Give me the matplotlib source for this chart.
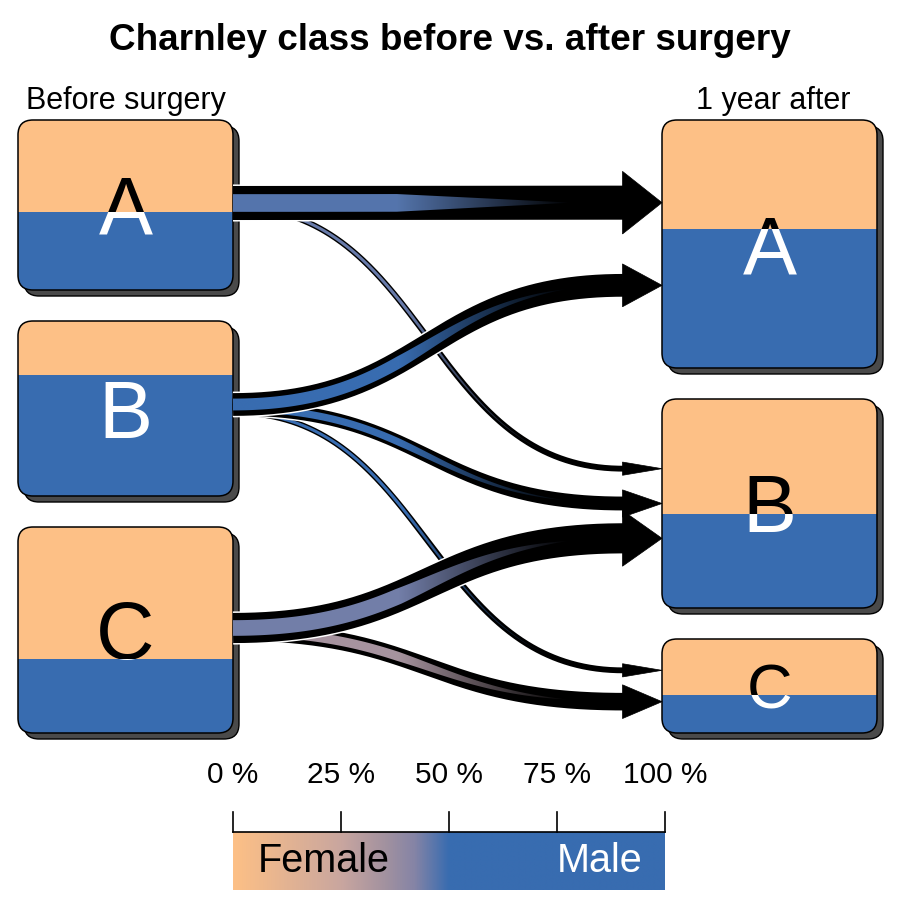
import numpy as np
import matplotlib
matplotlib.use("Agg")
import matplotlib.pyplot as plt
from matplotlib.patches import FancyBboxPatch, Rectangle, Polygon
from matplotlib.colors import LinearSegmentedColormap, to_rgb
from matplotlib.transforms import Bbox

plt.rcParams["font.family"] = ["Liberation Sans", "DejaVu Sans"]

# ---- data ---------------------------------------------------------------
classes = ["A", "B", "C"]
title = "Charnley class before vs. after surgery"
label_before = "Before surgery"
label_after = "1 year after"

# patients moving from class (row, before) to class (col, after)
transitions = np.array([[150, 20, 0],
                        [98, 57, 20],
                        [0, 132, 74]])
# share of women within each transition
trans_female = np.array([[0.53, 0.55, 0.0],
                         [0.30, 0.35, 0.40],
                         [0.0, 0.56, 0.66]])
# share of women in each box
box_female_before = [0.54, 0.31, 0.64]
box_female_after = [0.44, 0.55, 0.60]

legend_ticks = [0, 25, 50, 75, 100]
legend_labels = ["Female", "Male"]

# ---- style ---------------------------------------------------------------
col_female = "#fdc086"
col_male = "#386cb0"
# colour scale (position = share of men)
sex_cmap = LinearSegmentedColormap.from_list(
    "sex", [(0.0, col_female), (0.25, "#c9a69f"), (0.35, "#a3929f"),
            (0.42, "#8584a6"), (0.5, col_male), (1.0, col_male)])

PT = 0.72  # points per pixel at dpi 100
left_x, right_x, box_w = 18, 662, 215
col_top, col_bottom, gap = 120, 733, 31
radius = 15
shadow = 6
head_len = 39
width_min, width_per_count = 1.5, 0.217
fade_start, fade_len = 0.42, 0.45

fig = plt.figure(figsize=(9, 9), dpi=100)
ax = fig.add_axes([0, 0, 1, 1])
ax.set_xlim(0, 900)
ax.set_ylim(900, 0)
ax.axis("off")


def disp_bbox(x0, y0, x1, y1):
    p = ax.transData.transform([[x0, y0], [x1, y1]])
    return Bbox.from_extents(p[:, 0].min(), p[:, 1].min(), p[:, 0].max(), p[:, 1].max())


def box_layout(totals):
    scale = (col_bottom - col_top - gap * (len(totals) - 1)) / sum(totals)
    tops, y = [], col_top
    for t in totals:
        tops.append(y)
        y += t * scale + gap
    return tops, [t * scale for t in totals]


def draw_box(x, y, h, female, label):
    style = f"round,pad=0,rounding_size={radius}"
    ax.add_patch(FancyBboxPatch((x + shadow, y + shadow), box_w, h, boxstyle=style,
                                fc="#4a4a4a", ec="black", lw=1.0, zorder=1))
    body = FancyBboxPatch((x, y), box_w, h, boxstyle=style,
                          fc=col_female, ec="none", zorder=2)
    ax.add_patch(body)
    split = y + h * female
    low = Rectangle((x, split), box_w, y + h - split, fc=col_male, ec="none", zorder=2)
    ax.add_patch(low)
    low.set_clip_path(body)
    ax.add_patch(FancyBboxPatch((x, y), box_w, h, boxstyle=style,
                                fc="none", ec="black", lw=1.1, zorder=3))
    # letter: black on the female part, white on the male part
    cap = min(58, 0.48 * h)
    fs = cap / 0.716 * PT
    for colr, ry0, ry1 in [("black", y - 5, split), ("white", split, y + h + 5)]:
        t = ax.text(x + box_w / 2, y + h / 2 + cap / 2, label, color=colr,
                    fontsize=fs, ha="center", va="baseline", zorder=4)
        t.set_clip_path(None)
        t.set_clip_box(disp_bbox(x, ry0, x + box_w, ry1))
        t.set_clip_on(True)


tops_b, h_b = box_layout(transitions.sum(axis=1))
tops_a, h_a = box_layout(transitions.sum(axis=0))
for i, c in enumerate(classes):
    draw_box(left_x, tops_b[i], h_b[i], box_female_before[i], c)
    draw_box(right_x, tops_a[i], h_a[i], box_female_after[i], c)

# start / end positions of arrows
starts, ends = {}, {}
for i in range(3):
    outs = [j for j in range(3) if transitions[i, j] > 0]
    ctr = tops_b[i] + h_b[i] / 2
    for k, j in enumerate(outs):
        starts[(i, j)] = ctr + (k - (len(outs) - 1) / 2) * 4
for j in range(3):
    ins = [i for i in range(3) if transitions[i, j] > 0]
    for k, i in enumerate(ins):
        frac = 0.5 if len(ins) == 1 else 1 / 3 + k / (len(ins) - 1) / 3
        ends[(i, j)] = tops_a[j] + h_a[j] * frac


def draw_arrow(y0, y1, w, colr, z):
    x0, x1 = left_x + box_w, right_x - head_len
    d = (x1 - x0) / 2
    p0, p1 = np.array([x0, y0]), np.array([x0 + d, y0])
    p2, p3 = np.array([x1 - d, y1]), np.array([x1, y1])
    t = np.linspace(0, 1, 400)[:, None]
    pts = ((1 - t) ** 3 * p0 + 3 * (1 - t) ** 2 * t * p1
           + 3 * (1 - t) * t ** 2 * p2 + t ** 3 * p3)
    ax.plot(pts[:, 0], pts[:, 1], color="white", lw=(w + 3) * PT,
            solid_capstyle="butt", solid_joinstyle="round", zorder=z)
    ax.plot(pts[:, 0], pts[:, 1], color="black", lw=w * PT,
            solid_capstyle="butt", solid_joinstyle="round", zorder=z + 0.1)
    # coloured core: tapered band, fading to black
    seg_len = np.hypot(*np.diff(pts, axis=0).T)
    s = np.concatenate([[0], np.cumsum(seg_len)]) / seg_len.sum()
    f = np.clip((s - fade_start) / fade_len, 0, 1)
    tan = np.gradient(pts, axis=0)
    tan /= np.hypot(tan[:, 0], tan[:, 1])[:, None]
    nrm = np.stack([-tan[:, 1], tan[:, 0]], axis=1)
    half = (w * 0.52 / 2 * (1 - f))[:, None]
    band = np.vstack([pts + nrm * half, (pts - nrm * half)[::-1]])
    poly = Polygon(band, closed=True, fc="none", ec="none")
    ax.add_patch(poly)
    xs = np.linspace(x0, x1, 300)
    fx = np.interp(xs, pts[:, 0], f)
    rgb = np.array(to_rgb(colr))
    img = (rgb[None, :] * (1 - fx)[:, None])[None, :, :]
    ymin, ymax = band[:, 1].min() - 1, band[:, 1].max() + 1
    im = ax.imshow(img, extent=[x0, x1, ymax, ymin], aspect="auto",
                   interpolation="bilinear", zorder=z + 0.2)
    im.set_clip_path(poly)
    hw = (1.75 * w + 3) / 2
    ax.add_patch(Polygon([[x1 - 0.5, y1 - hw], [right_x, y1], [x1 - 0.5, y1 + hw]],
                         closed=True, fc="black", ec="black", lw=0.5, zorder=z + 0.3))


order = sorted(starts.keys(), key=lambda k: transitions[k])
for n, (i, j) in enumerate(order):
    w = width_min + transitions[i, j] * width_per_count
    colr = sex_cmap(1 - trans_female[i, j])
    draw_arrow(starts[(i, j)], ends[(i, j)], w, colr, 10 + n)

# ---- texts ---------------------------------------------------------------
ax.text(450, 41, title, fontsize=26.6, fontweight="bold", ha="center", va="center")
ax.text(left_x + box_w / 2, 101, label_before, fontsize=22, ha="center", va="center")
ax.text(right_x + box_w / 2 + 4, 101, label_after, fontsize=22, ha="center", va="center")

# ---- legend --------------------------------------------------------------
lx0, lx1, ly0, ly1 = 233, 665, 832, 890
grad = np.linspace(0, 1, 512)[None, :]
ax.imshow(grad, cmap=sex_cmap, extent=[lx0, lx1, ly1, ly0], aspect="auto",
          interpolation="bilinear", zorder=1)
ax.plot([lx0, lx1], [ly0, ly0], color="black", lw=1.2, zorder=2)
for tk in legend_ticks:
    xx = lx0 + (lx1 - lx0) * tk / 100
    ax.plot([xx, xx], [ly0, ly0 - 20], color="black", lw=1.2, zorder=2)
    ax.text(xx, 775, f"{tk} %", fontsize=21.5, ha="center", va="center")
ax.text(lx0 + 25, (ly0 + ly1) / 2, legend_labels[0], fontsize=28.5, color="black",
        ha="left", va="center", zorder=3)
ax.text(lx1 - 22, (ly0 + ly1) / 2, legend_labels[1], fontsize=28.5, color="white",
        ha="right", va="center", zorder=3)
ax.set_xlim(0, 900)
ax.set_ylim(900, 0)

fig.savefig("out.png", dpi=100)
